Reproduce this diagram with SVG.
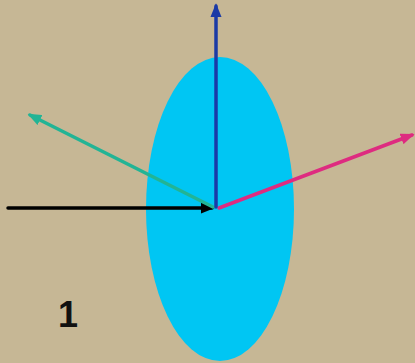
<svg xmlns="http://www.w3.org/2000/svg" width="415" height="363" viewBox="0 0 415 363">
<style>
.ax{stroke-width:3.5;fill:none;stroke-linecap:round}
.lbl{font-family:"Liberation Sans",Arial,sans-serif;font-weight:bold;font-size:36px;fill:#111}
</style>
<defs>
<marker id="hBlue" viewBox="0 0 10 8" refX="8" refY="4" markerWidth="4" markerHeight="3.2" orient="auto"><path d="M0,0 L10,4 L0,8 Z" fill="#1a3aa6"/></marker>
<marker id="hGreen" viewBox="0 0 10 8" refX="8" refY="4" markerWidth="4" markerHeight="3.2" orient="auto"><path d="M0,0 L10,4 L0,8 Z" fill="#22b495"/></marker>
<marker id="hMag" viewBox="0 0 10 8" refX="8" refY="4" markerWidth="4" markerHeight="3.2" orient="auto"><path d="M0,0 L10,4 L0,8 Z" fill="#de2b80"/></marker>
<marker id="hBlack" viewBox="0 0 10 8" refX="8" refY="4" markerWidth="4" markerHeight="3.2" orient="auto"><path d="M0,0 L10,4 L0,8 Z" fill="#000"/></marker>
</defs>
<rect width="415" height="363" fill="#c6b795"/>
<g id="lens"><ellipse cx="220" cy="209" rx="74" ry="152" fill="#00c6f3"/></g>
<g id="connectors">
<line class="ax" x1="8" y1="208" x2="212" y2="208" stroke="#000" stroke-width="4" marker-end="url(#hBlack)"/>
<line class="ax" x1="213" y1="207" x2="30" y2="115" stroke="#22b495" marker-end="url(#hGreen)"/>
<line class="ax" x1="219" y1="208" x2="412" y2="135" stroke="#de2b80" marker-end="url(#hMag)"/>
<line class="ax" x1="216" y1="207" x2="216" y2="6" stroke="#1a3aa6" marker-end="url(#hBlue)"/>
</g>
<g id="label"><text class="lbl" x="58" y="327">1</text></g>
</svg>
